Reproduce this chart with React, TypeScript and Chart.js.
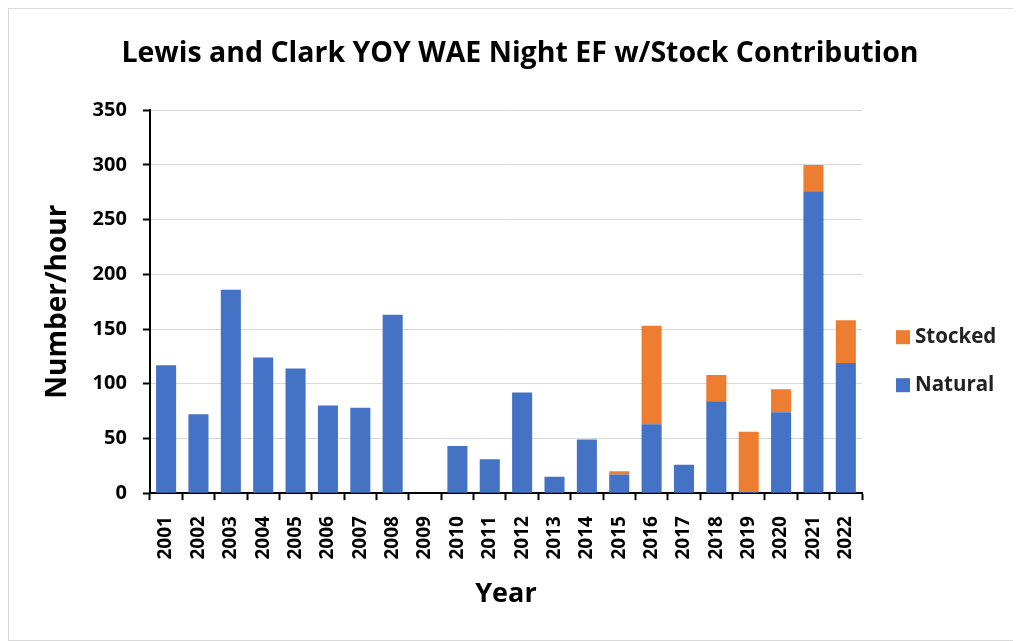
import React, { useEffect, useRef } from "react";
import { Chart, registerables } from "chart.js";

Chart.register(...registerables);

const years = [
  "2001", "2002", "2003", "2004", "2005", "2006", "2007", "2008", "2009", "2010", "2011",
  "2012", "2013", "2014", "2015", "2016", "2017", "2018", "2019", "2020", "2021", "2022",
];
const natural = [117, 72, 186, 124, 114, 80, 78, 163, 0, 43, 31, 92, 15, 49, 17, 63, 26, 84, 1, 74, 276, 119];
const stocked = [0, 0, 0, 0, 0, 0, 0, 0, 0, 0, 0, 0, 0, 0, 3, 90, 0, 24, 55, 21, 24, 39];
const yTicks = [0, 50, 100, 150, 200, 250, 300, 350];
const legendItems = ["Stocked", "Natural"];
const legendColors = ["#ED7D31", "#4472C4"];

const FONT = "'Open Sans', 'Noto Sans', sans-serif";

const customLegend = {
  id: "customLegend",
  afterDraw(chart: any) {
    const { ctx, chartArea } = chart;
    ctx.save();
    ctx.font = `bold 20.5px ${FONT}`;
    ctx.textBaseline = "middle";
    ctx.textAlign = "left";
    legendItems.forEach((label, i) => {
      const cy = chartArea.top + 227 + i * 48;
      const x = chartArea.right + 34;
      ctx.fillStyle = legendColors[i];
      ctx.fillRect(x, cy - 7, 14, 14);
      ctx.fillStyle = "#222";
      ctx.fillText(label, x + 19, cy);
    });
    ctx.restore();
  },
};

export default function App() {
  const ref = useRef<HTMLCanvasElement | null>(null);
  useEffect(() => {
    document.body.style.overflow = "hidden";
    const ctx = ref.current!.getContext("2d")!;
    const chart = new Chart(ctx, {
      type: "bar",
      data: {
        labels: years,
        datasets: [
          { label: "Natural", data: natural, backgroundColor: "#4472C4", barPercentage: 0.62, categoryPercentage: 1, yAxisID: "y" },
          { label: "Stocked", data: stocked, backgroundColor: "#ED7D31", barPercentage: 0.62, categoryPercentage: 1, yAxisID: "y" },
        ],
      },
      plugins: [customLegend],
      options: {
        animation: false,
        responsive: false,
        layout: { padding: { left: 28, right: 17, top: 18, bottom: 25 } },
        plugins: {
          title: {
            display: true,
            text: "Lewis and Clark YOY WAE Night EF w/Stock Contribution",
            color: "#000",
            font: { family: FONT, size: 28.5, weight: "bold" },
            padding: { top: 10, bottom: 39 },
          },
          legend: { display: false },
          tooltip: { enabled: false },
        },
        scales: {
          x: {
            stacked: true,
            grid: { display: true, drawOnChartArea: false, offset: true, tickColor: "#000", tickLength: 7, tickWidth: 2 },
            border: { color: "#000", width: 2 },
            ticks: { color: "#000", minRotation: 90, maxRotation: 90, font: { family: FONT, size: 19, weight: "bold" }, padding: 16 },
            title: { display: true, text: "Year", color: "#000", font: { family: FONT, size: 27, weight: "bold" }, padding: { top: 3 } },
          },
          y: {
            stacked: true,
            min: 0,
            max: 350,
            afterBuildTicks: (axis: any) => {
              axis.ticks = yTicks.map((v) => ({ value: v }));
            },
            grid: { color: "#d9d9d9", tickColor: "#000", tickLength: 7, tickWidth: 2, lineWidth: 1 },
            border: { color: "#000", width: 2 },
            ticks: { color: "#000", font: { family: FONT, size: 20, weight: "bold" }, padding: 16 },
            title: { display: true, text: "Number/hour", color: "#000", font: { family: FONT, size: 28, weight: "bold" }, padding: { top: 4, bottom: 2 } },
          },
          legendSpace: {
            position: "right",
            display: true,
            grid: { display: false, drawOnChartArea: false, drawTicks: false },
            border: { display: false },
            ticks: { display: false },
            afterFit: (axis: any) => {
              axis.width = 141;
            },
          },
        },
      },
    });
    return () => chart.destroy();
  }, []);
  return (
    <div style={{ width: 1013, height: 633, border: "1px solid #d9d9d9", boxSizing: "border-box" }}>
      <canvas ref={ref} width={1011} height={631} />
    </div>
  );
}
